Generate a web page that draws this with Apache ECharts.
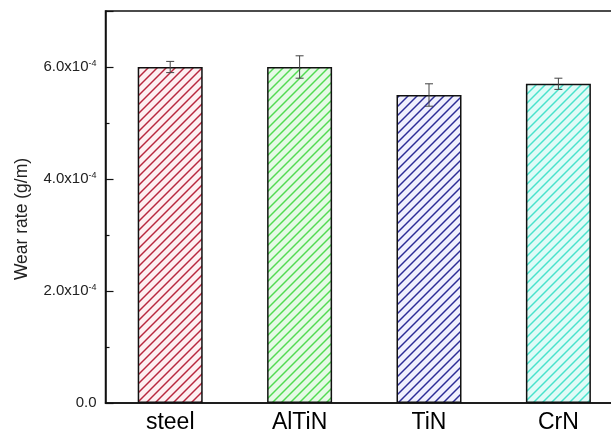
<!DOCTYPE html>
<html>
<head>
<meta charset="utf-8">
<script src="https://cdn.jsdelivr.net/npm/echarts@6/dist/echarts.min.js"></script>
<style>
html,body{margin:0;padding:0;background:#fff;overflow:hidden;width:611px;height:439px;}
#chart{width:660px;height:439px;}
</style>
</head>
<body>
<div id="chart"></div>
<script>
const categories = ['steel', 'AlTiN', 'TiN', 'CrN'];
const wearRate = [6.0e-4, 6.0e-4, 5.5e-4, 5.7e-4];
const wearErr = [0.1e-4, 0.2e-4, 0.2e-4, 0.1e-4];
const yTicks = [0, 2e-4, 4e-4, 6e-4];
const lineColors = ['#b8283f', '#52da52', '#2d2d96', '#48e2cc'];
const fillColors = ['#fdf0f2', '#e6fae6', '#f0f0fd', '#e0fbf7'];

function hatch(lineColor, fillColor) {
  const s = 9;
  const c = document.createElement('canvas');
  c.width = s; c.height = s;
  const ctx = c.getContext('2d');
  ctx.fillStyle = fillColor;
  ctx.fillRect(0, 0, s, s);
  ctx.strokeStyle = lineColor;
  ctx.lineWidth = 1.45;
  ctx.beginPath();
  ctx.moveTo(-1, s + 1); ctx.lineTo(s + 1, -1);
  ctx.moveTo(-1, 1); ctx.lineTo(1, -1);
  ctx.moveTo(s - 1, s + 1); ctx.lineTo(s + 1, s - 1);
  ctx.stroke();
  return { image: c, repeat: 'repeat' };
}

const chart = echarts.init(document.getElementById('chart'), null, { renderer: 'canvas' });

const barData = wearRate.map((v, i) => ({
  value: v,
  itemStyle: { color: hatch(lineColors[i], fillColors[i]), borderColor: '#111', borderWidth: 1.5 }
}));
const errData = wearRate.map((v, i) => [i, v, wearErr[i]]);

chart.setOption({
  animation: false,
  grid: { left: 105.5, top: 11, width: 517.6, height: 392, show: true, borderColor: '#111', borderWidth: 1.5, backgroundColor: 'transparent' },
  xAxis: {
    type: 'category',
    data: categories,
    axisLine: { lineStyle: { color: '#111', width: 1.5 } },
    axisTick: { show: false },
    axisLabel: { fontSize: 23, color: '#000', fontFamily: 'Liberation Sans, Arial, sans-serif', margin: 8 }
  },
  yAxis: {
    type: 'value',
    min: 0, max: 7e-4, interval: 2e-4,
    splitLine: { show: false },
    axisLine: { show: true, lineStyle: { color: '#111', width: 1.5 } },
    axisTick: { show: true, inside: true, length: 8, lineStyle: { color: '#111', width: 1.2 } },
    minorTick: { show: true, splitNumber: 2, length: 4, lineStyle: { color: '#111', width: 1.2 } },
    axisLabel: {
      margin: 9,
      color: '#222',
      fontFamily: 'Liberation Sans, Arial, sans-serif',
      formatter: function (v) {
        const k = yTicks.findIndex(t => Math.abs(t - v) < 1e-9);
        if (k < 0) return '';
        if (k === 0) return '{b|0.0}';
        return '{b|' + (v / 1e-4).toFixed(1) + 'x10}{s|-4}';
      },
      rich: {
        b: { fontSize: 15, color: '#222', fontFamily: 'Liberation Sans, Arial, sans-serif', lineHeight: 18 },
        s: { fontSize: 9, color: '#222', fontFamily: 'Liberation Sans, Arial, sans-serif', verticalAlign: 'bottom', padding: [0, 0, 8, 0] }
      }
    }
  },
  graphic: [{
    type: 'text',
    x: 22, y: 219,
    rotation: Math.PI / 2,
    style: { text: 'Wear rate (g/m)', fontSize: 17.5, fill: '#222', fontFamily: 'Liberation Sans, Arial, sans-serif', align: 'center', verticalAlign: 'middle' }
  }],
  series: [
    { type: 'bar', data: barData, barWidth: 65, z: 2 },
    {
      type: 'custom',
      data: errData,
      encode: { x: 0, y: 1 },
      z: 5,
      renderItem: function (params, api) {
        const x = api.value(0), y = api.value(1), e = api.value(2);
        const top = api.coord([x, y + e]);
        const bot = api.coord([x, y - e]);
        const hw = 4;
        const st = { stroke: '#444', lineWidth: 1 };
        return {
          type: 'group',
          children: [
            { type: 'line', shape: { x1: top[0], y1: top[1], x2: bot[0], y2: bot[1] }, style: st },
            { type: 'line', shape: { x1: top[0] - hw, y1: top[1], x2: top[0] + hw, y2: top[1] }, style: st },
            { type: 'line', shape: { x1: bot[0] - hw, y1: bot[1], x2: bot[0] + hw, y2: bot[1] }, style: st }
          ]
        };
      }
    }
  ]
});
</script>
</body>
</html>
